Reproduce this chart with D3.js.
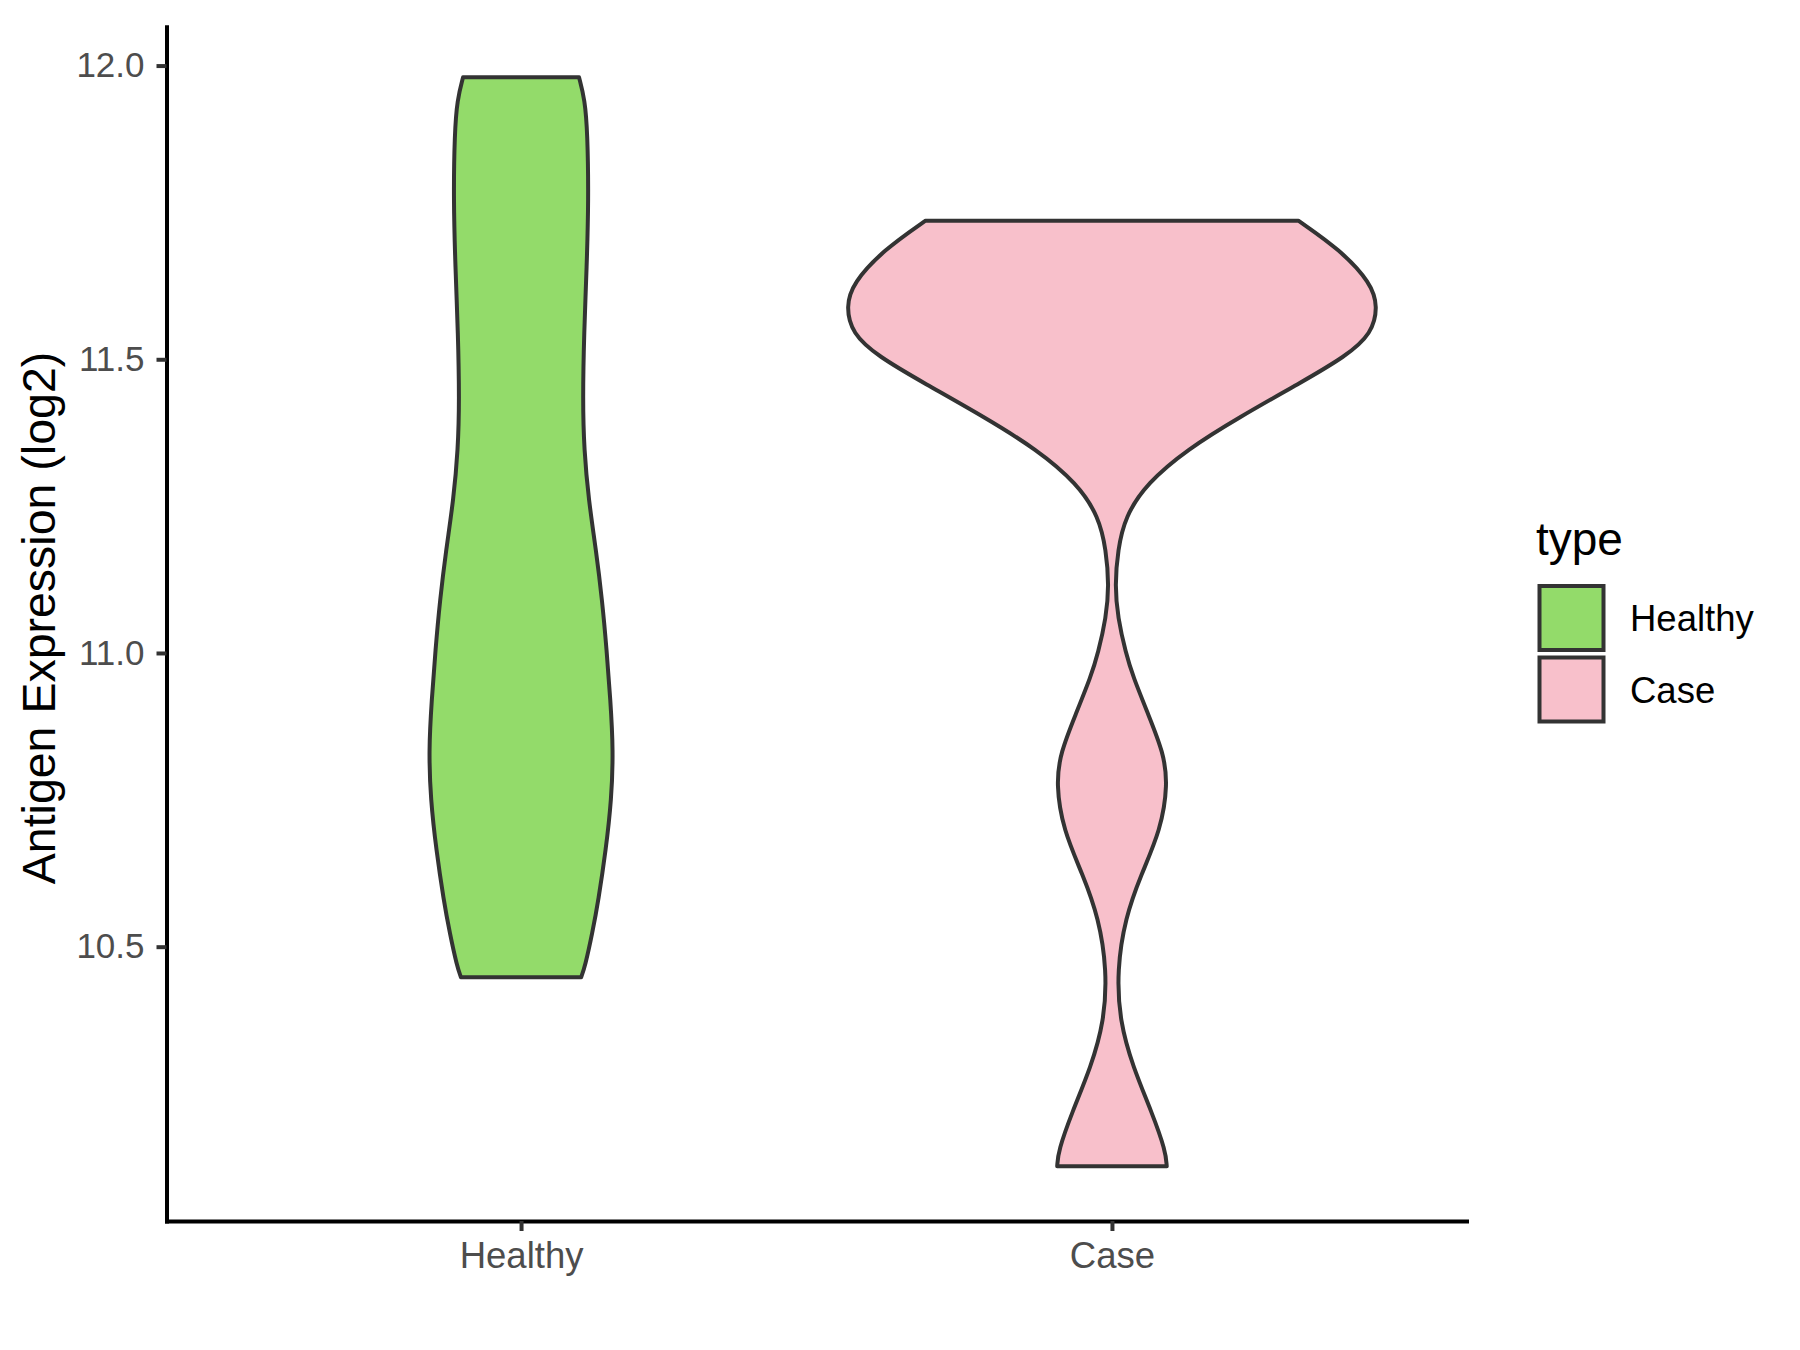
<!DOCTYPE html>
<html>
<head>
<meta charset="utf-8">
<script src="https://cdn.jsdelivr.net/npm/d3@7"></script>
<style>
  body { margin: 0; background: #fff; }
  svg { display: block; font-family: "Liberation Sans", Arial, sans-serif; }
</style>
</head>
<body>
<svg id="chart" width="1800" height="1350"></svg>
<script>
// groups and colours
var types = ["Healthy", "Case"];
var fills = ["#93DB6A", "#F8C0CB"];
var yTicks = [10.5, 11.0, 11.5, 12.0];

// violin outlines: expression value and width (1 = widest violin)
var healthyValues = [11.980, 11.942, 11.885, 11.771, 11.657, 11.545, 11.431, 11.346, 11.261, 11.175,
                     11.090, 11.005, 10.920, 10.835, 10.750, 10.665, 10.579, 10.523, 10.467, 10.448];
var healthyWidths = [0.218, 0.240, 0.250, 0.254, 0.247, 0.237, 0.232, 0.237, 0.254, 0.282,
                     0.305, 0.322, 0.336, 0.347, 0.340, 0.319, 0.291, 0.268, 0.241, 0.226];

var caseValues = [11.736, 11.686, 11.630, 11.590, 11.544, 11.505, 11.459, 11.402, 11.346, 11.289,
                  11.232, 11.175, 11.115, 11.060, 11.000, 10.960, 10.895, 10.830, 10.777, 10.699,
                  10.621, 10.549, 10.460, 10.373, 10.295, 10.217, 10.152, 10.126];
var caseWidths  = [0.701, 0.859, 0.974, 1.000, 0.978, 0.880, 0.705, 0.481, 0.281, 0.132,
                   0.049, 0.022, 0.011, 0.022, 0.052, 0.079, 0.137, 0.194, 0.210, 0.184,
                   0.108, 0.050, 0.019, 0.029, 0.079, 0.151, 0.202, 0.206];

var svg = d3.select("#chart");

var x = d3.scalePoint().domain(types).range([166.5, 1466.5]).padding(0.6);
var y = d3.scaleLinear().domain([10.033, 12.066]).range([1221, 26.8]);
var halfMax = 0.45 * x.step();

var violins = [
  { type: "Healthy", values: healthyValues, widths: healthyWidths },
  { type: "Case", values: caseValues, widths: caseWidths }
];

violins.forEach(function(v, i) {
  var pts = v.values.map(function(d, j) { return { v: d, w: v.widths[j] }; });
  var cx = x(v.type);
  var area = d3.area()
    .y(function(d) { return y(d.v); })
    .x0(function(d) { return cx - d.w * halfMax; })
    .x1(function(d) { return cx + d.w * halfMax; })
    .curve(d3.curveBasis);
  svg.append("path")
    .attr("d", area(pts))
    .attr("fill", fills[i])
    .attr("stroke", "#333333")
    .attr("stroke-width", 4)
    .attr("stroke-linejoin", "round");
});

// axes
var yAxis = svg.append("g")
  .attr("transform", "translate(166.5,0)")
  .call(d3.axisLeft(y).tickValues(yTicks).tickFormat(d3.format(".1f")).tickSize(10).tickSizeOuter(0).tickPadding(12));
var xAxis = svg.append("g")
  .attr("transform", "translate(0,1221)")
  .call(d3.axisBottom(x).tickSize(10).tickSizeOuter(0).tickPadding(12));

[yAxis, xAxis].forEach(function(g) {
  g.select(".domain").attr("stroke", "#000").attr("stroke-width", 4).attr("stroke-linecap", "square");
  g.selectAll(".tick line").attr("stroke", "#333333").attr("stroke-width", 4);
  g.selectAll(".tick text")
    .attr("fill", "#4d4d4d")
    .style("font-size", "35px")
    .style("font-family", "'Liberation Sans', Arial, sans-serif");
});
xAxis.selectAll(".tick text").attr("dy", null).attr("y", 47).style("font-size", "36.5px");

// y axis title
svg.append("text")
  .attr("transform", "translate(55,618) rotate(-90)")
  .attr("text-anchor", "middle")
  .style("font-size", "46.5px")
  .attr("fill", "#000")
  .text("Antigen Expression (log2)");

// legend
var legend = svg.append("g");
legend.append("text")
  .attr("x", 1536)
  .attr("y", 555)
  .style("font-size", "46px")
  .text("type");

types.forEach(function(t, i) {
  legend.append("rect")
    .attr("x", 1539.5)
    .attr("y", 586 + i * 71.5)
    .attr("width", 64)
    .attr("height", 64)
    .attr("fill", fills[i])
    .attr("stroke", "#333333")
    .attr("stroke-width", 4);
  legend.append("text")
    .attr("x", 1630)
    .attr("y", 631 + i * 71.5)
    .style("font-size", "36.5px")
    .text(t);
});
</script>
</body>
</html>
